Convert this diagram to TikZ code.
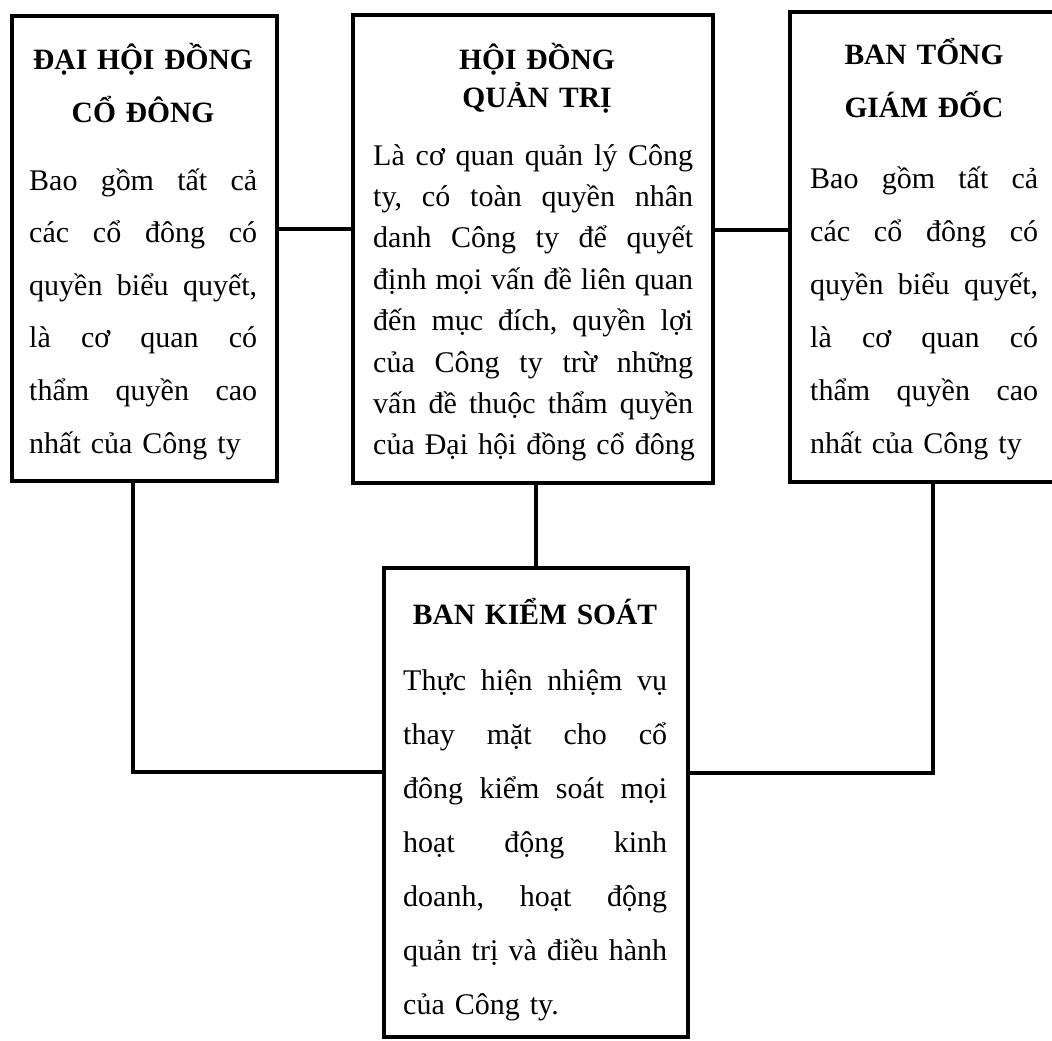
\documentclass[tikz,border=0pt]{standalone}
\usepackage{fontspec}
\setmainfont{Liberation Serif}
\newcommand\lineW{228pt}
\newcommand\jusline[1]{\hbox to\lineW{\frenchspacing\spaceskip=0.25em plus 1fil\relax #1}}
\newcommand\plainline[1]{\hbox{#1}}
\tikzset{
  box/.style={draw=black, line width=4pt, rectangle, inner sep=0pt, fill=white},
  conn/.style={draw=black, line width=4pt},
  ttl/.style={font=\fontsize{29.5}{#1}\selectfont\bfseries, anchor=base, inner sep=0pt, align=center},
  body/.style={font=\fontsize{30}{#1}\selectfont, anchor=base west, inner sep=0pt},
}
\begin{document}
\begin{tikzpicture}[x=1pt,y=-1pt]
\clip (0,0) rectangle (1052,1041);
\fill[white] (0,0) rectangle (1052,1041);

% boxes
\node[box, minimum width=265pt, minimum height=465pt] (dh) at (144.5,248.5) {};
\node[box, minimum width=360pt, minimum height=468pt] (hd) at (533,249) {};
\node[box, minimum width=280pt, minimum height=470pt] (bgd) at (930,247) {};
\node[box, minimum width=304pt, minimum height=469pt] (bks) at (536,802.5) {};

% connectors
\draw[conn] ([yshift=19.5pt]dh.east) -- ([yshift=19.5pt]dh.east -| hd.west);
\draw[conn] ([yshift=19pt]hd.east) -- ([yshift=19pt]hd.east -| bgd.west);
\draw[conn] (hd.south -| bks.north) -- (bks.north);
\draw[conn] ([xshift=-11.5pt]dh.south) |- ([yshift=30.5pt]bks.west);
\draw[conn] ([xshift=3pt]bgd.south) |- ([yshift=29.5pt]bks.east);

% titles
\node[ttl=53, text width=265pt] (dh-title) at (143,70) {ĐẠI HỘI ĐỒNG\\CỔ ĐÔNG};
\node[ttl=38, text width=360pt] (hd-title) at (537,70) {HỘI ĐỒNG\\QUẢN TRỊ};
\node[ttl=53, text width=260pt] (bgd-title) at (924,65) {BAN TỔNG\\GIÁM ĐỐC};
\node[ttl=53, text width=300pt] (bks-title) at (535,624) {BAN KIỂM SOÁT};

% bodies
\node[body=52.6, text width=228pt] (dh-body) at (29,190) {%
\renewcommand\lineW{228pt}%
\jusline{Bao gồm tất cả}
\jusline{các cổ đông có}
\jusline{quyền biểu quyết,}
\jusline{là cơ quan có}
\jusline{thẩm quyền cao}
\plainline{nhất của Công ty}};

\node[body=41.4, text width=320pt] (hd-body) at (373,165) {%
\renewcommand\lineW{320pt}%
\jusline{Là cơ quan quản lý Công}
\jusline{ty, có toàn quyền nhân}
\jusline{danh Công ty để quyết}
\jusline{định mọi vấn đề liên quan}
\jusline{đến mục đích, quyền lợi}
\jusline{của Công ty trừ những}
\jusline{vấn đề thuộc thẩm quyền}
\plainline{của Đại hội đồng cổ đông}};

\node[body=53, text width=228pt] (bgd-body) at (810,188) {%
\renewcommand\lineW{228pt}%
\jusline{Bao gồm tất cả}
\jusline{các cổ đông có}
\jusline{quyền biểu quyết,}
\jusline{là cơ quan có}
\jusline{thẩm quyền cao}
\plainline{nhất của Công ty}};

\node[body=54, text width=264pt] (bks-body) at (403,690) {%
\renewcommand\lineW{264pt}%
\jusline{Thực hiện nhiệm vụ}
\jusline{thay mặt cho cổ}
\jusline{đông kiểm soát mọi}
\jusline{hoạt động kinh}
\jusline{doanh, hoạt động}
\jusline{quản trị và điều hành}
\plainline{của Công ty.}};
\end{tikzpicture}
\end{document}
